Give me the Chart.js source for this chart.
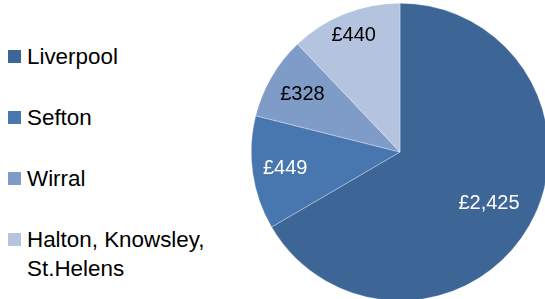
<!DOCTYPE html>
<html>
<head>
<meta charset="utf-8">
<script src="https://cdn.jsdelivr.net/npm/chart.js@4"></script>
<style>
    html, body { margin: 0; padding: 0; background: #fff; overflow: hidden; }
    body { width: 545px; height: 299px; position: relative; font-family: "Liberation Sans", Arial, sans-serif; }
    #legend { position: absolute; left: 8px; top: 42px; }
    .item { display: flex; align-items: flex-start; margin-bottom: 32px; }
    .box { width: 13px; height: 13px; margin-top: 8px; margin-right: 6px; flex: none; }
    .txt { font-size: 22.4px; line-height: 29px; color: #000; white-space: nowrap; }
    #wrap { position: absolute; left: 251px; top: 3px; width: 298px; height: 298px; }
</style>
</head>
<body>
<div id="legend"></div>
<div id="wrap"><canvas id="chart"></canvas></div>
<script>
// data
var areaLabels = ["Liverpool", "Sefton", "Wirral", ["Halton, Knowsley,", "St.Helens"]];
var areaValues = [2425, 449, 328, 440];
var sliceColours = ["#3d6596", "#4877af", "#7f9bc7", "#b4c3de"];

// legend on the left (html so the last name can wrap)
var legendEl = document.getElementById("legend");
for (var i = 0; i < areaLabels.length; i++) {
    var item = document.createElement("div");
    item.className = "item";
    var box = document.createElement("div");
    box.className = "box";
    box.style.background = sliceColours[i];
    var txt = document.createElement("div");
    txt.className = "txt";
    var areaName = areaLabels[i];
    txt.innerHTML = Array.isArray(areaName) ? areaName.join("<br>") : areaName;
    item.append(box, txt);
    legendEl.append(item);
}

// writes the £ values inside the slices
var sliceText = {
    id: "sliceText",
    afterDatasetsDraw: function (chart, args, opts) {
        var ctx = chart.ctx;
        var arcs = chart.getDatasetMeta(0).data;
        ctx.save();
        ctx.font = opts.font;
        ctx.textAlign = "center";
        ctx.textBaseline = "middle";
        arcs.forEach(function (arc, j) {
            var p = arc.getProps(["x", "y", "startAngle", "endAngle", "outerRadius"], true);
            var mid = (p.startAngle + p.endAngle) / 2;
            var r = p.outerRadius * opts.radius[j];
            ctx.fillStyle = opts.colours[j];
            var v = chart.data.datasets[0].data[j];
            ctx.fillText("£" + v.toLocaleString("en-GB"), p.x + Math.cos(mid) * r, p.y + Math.sin(mid) * r);
        });
        ctx.restore();
    }
};

var ctx = document.getElementById("chart").getContext("2d");
window.myChart = new Chart(ctx, {
    type: "pie",
    data: {
        labels: areaLabels,
        datasets: [{
            data: areaValues,
            backgroundColor: sliceColours,
            borderColor: "rgba(255,255,255,0.6)",
            borderWidth: 0.5
        }]
    },
    options: {
        responsive: true,
        maintainAspectRatio: false,
        animation: false,
        layout: { padding: 0 },
        plugins: {
            legend: { display: false },
            tooltip: { enabled: false },
            sliceText: {
                font: "20px 'Liberation Sans', Arial, sans-serif",
                radius: [0.69, 0.78, 0.76, 0.84],
                colours: ["#ffffff", "#ffffff", "#000000", "#000000"]
            }
        }
    },
    plugins: [sliceText]
});
</script>
</body>
</html>
